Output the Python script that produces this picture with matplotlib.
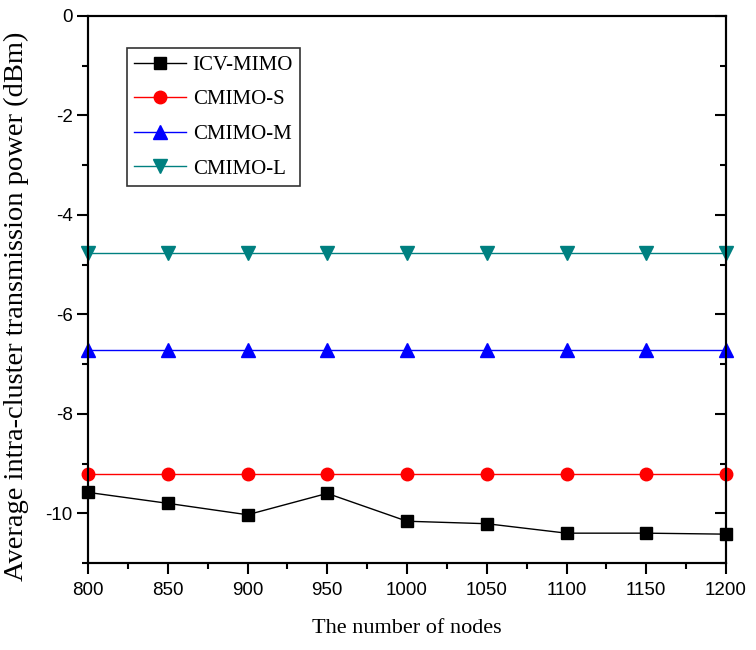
import matplotlib
matplotlib.use("Agg")
import matplotlib.pyplot as plt
from matplotlib.ticker import MultipleLocator

plt.rcParams['axes.unicode_minus'] = False

nodes = [800, 850, 900, 950, 1000, 1050, 1100, 1150, 1200]
icv_mimo = [-9.58, -9.80, -10.03, -9.60, -10.16, -10.21, -10.40, -10.40, -10.42]
cmimo_s = [-9.22] * 9
cmimo_m = [-6.72] * 9
cmimo_l = [-4.77] * 9

tick_font = ['Liberation Sans', 'DejaVu Sans']
serif_font = ['Liberation Serif', 'DejaVu Serif']

fig = plt.figure(figsize=(7.56, 6.5), dpi=100)
ax = fig.add_axes([88 / 756, 87 / 650, 638 / 756, 547 / 650])

ax.plot(nodes, icv_mimo, color='black', marker='s', markersize=8, lw=1.0, label='ICV-MIMO', clip_on=False, zorder=5)
ax.plot(nodes, cmimo_s, color='red', marker='o', markersize=9, lw=1.0, label='CMIMO-S', clip_on=False, zorder=5)
ax.plot(nodes, cmimo_m, color='blue', marker='^', markersize=9.5, lw=1.0, label='CMIMO-M', clip_on=False, zorder=5)
ax.plot(nodes, cmimo_l, color='#008080', marker='v', markersize=9.5, lw=1.0, label='CMIMO-L', clip_on=False, zorder=5)

ax.set_xlim(800, 1200)
ax.set_ylim(-11, 0)
ax.xaxis.set_major_locator(MultipleLocator(50))
ax.xaxis.set_minor_locator(MultipleLocator(25))
ax.yaxis.set_major_locator(MultipleLocator(2))
ax.yaxis.set_minor_locator(MultipleLocator(1))
ax.tick_params(which='both', direction='out', width=1.5, top=False, right=False)
ax.tick_params(which='major', length=8)
ax.tick_params(which='minor', length=4.5)
ax.tick_params(axis='x', which='major', pad=6)
ax.tick_params(axis='y', which='major', pad=3)
for sp in ax.spines.values():
    sp.set_linewidth(1.5)

for lab in ax.get_xticklabels() + ax.get_yticklabels():
    lab.set_family(tick_font)
    lab.set_fontsize(13.5)

ax2 = ax.twinx()
ax2.set_ylim(-11, 0)
ax2.yaxis.set_major_locator(MultipleLocator(2))
ax2.yaxis.set_minor_locator(MultipleLocator(1))
ax2.tick_params(which='both', direction='in', width=1.5, labelright=False)
ax2.tick_params(which='major', length=8)
ax2.tick_params(which='minor', length=4.5)
for sp in ax2.spines.values():
    sp.set_linewidth(1.5)

ax.set_xlabel('The number of nodes', family=serif_font, fontsize=16, labelpad=14)
ax.set_ylabel('Average intra-cluster transmission power (dBm)', family=serif_font, fontsize=20.5)
ax.yaxis.set_label_coords(-0.093, 0.47)

leg = ax.legend(loc='upper left', bbox_to_anchor=((127 - 88) / 638, (563 - 48) / 547),
                prop={'family': serif_font, 'size': 15},
                frameon=True, fancybox=False, edgecolor='black', handlelength=2.5, borderpad=0.35,
                labelspacing=0.72, handletextpad=0.3, borderaxespad=0)
leg.get_frame().set_linewidth(1.2)

fig.savefig('out.png', dpi=100)
